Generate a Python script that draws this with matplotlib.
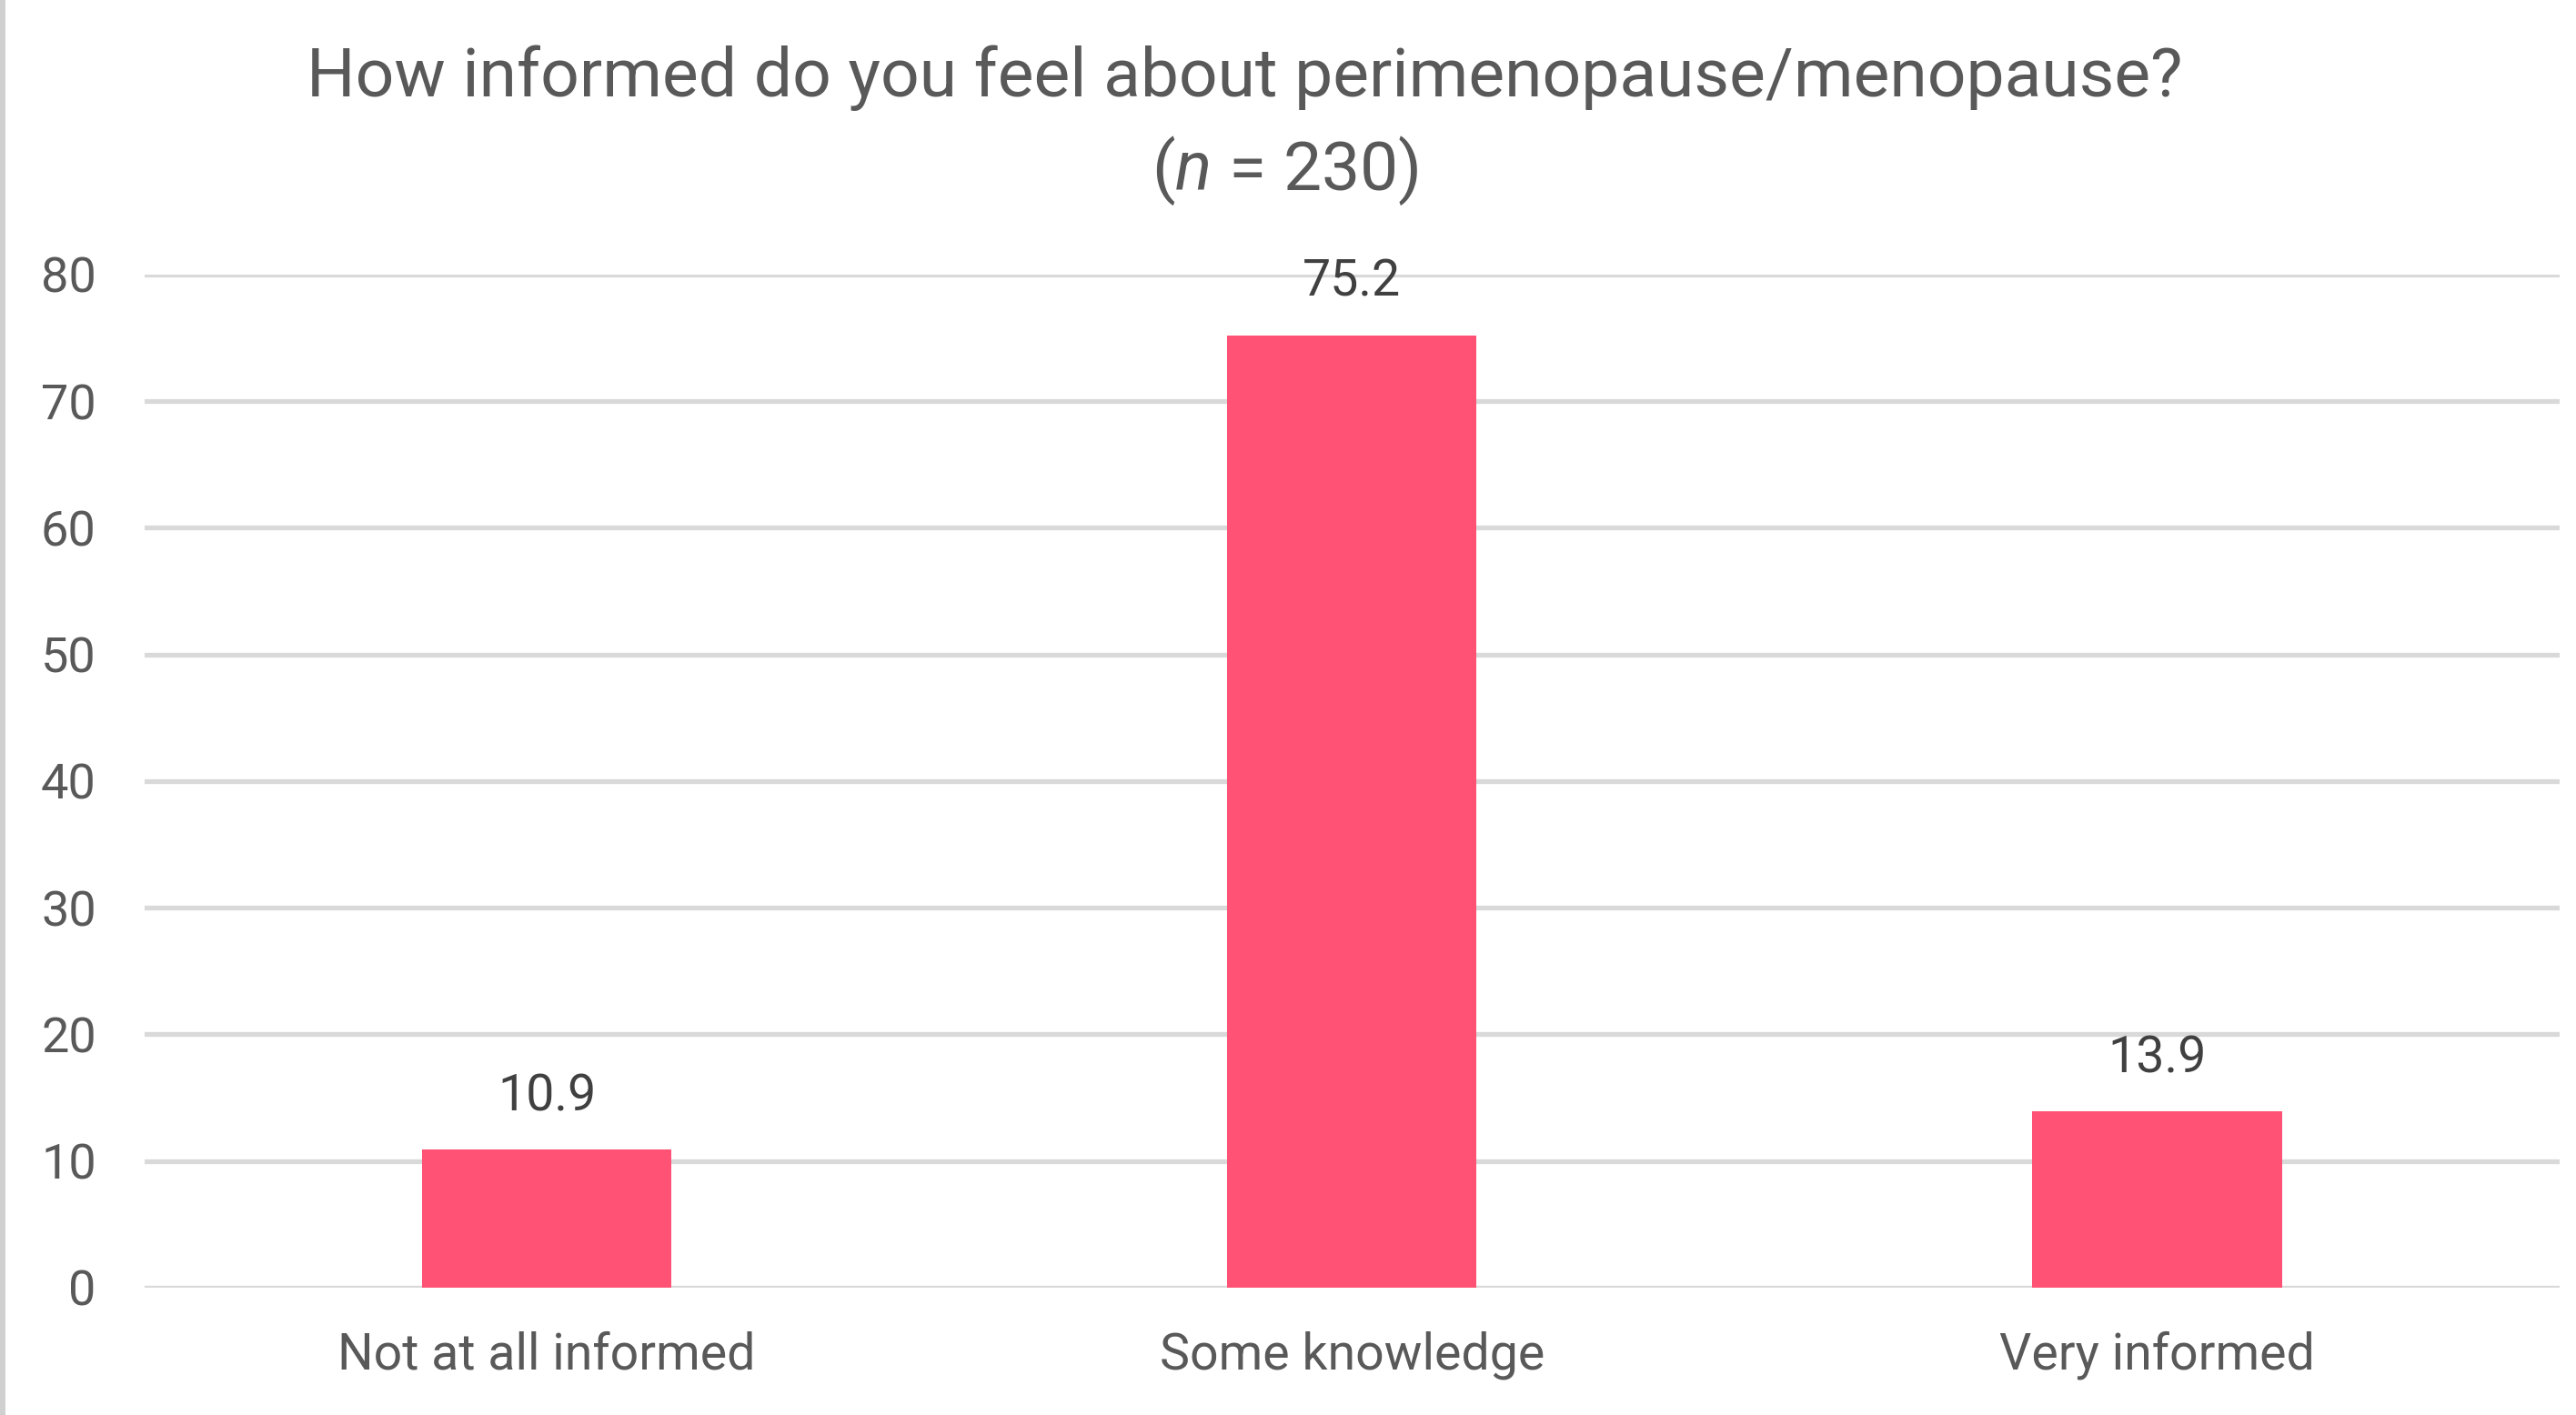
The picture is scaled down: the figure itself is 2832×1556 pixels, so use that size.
import numpy as np
import matplotlib.pyplot as plt

# Data
categories = ['Not at all informed', 'Some knowledge', 'Very informed']
values = [10.9, 75.2, 13.9]
yticks = [0, 10, 20, 30, 40, 50, 60, 70, 80]

bar_color = '#FF5274'
text_color = '#595959'
label_color = '#404040'
grid_color = '#D9D9D9'

plt.rcParams['font.family'] = ['Roboto', 'DejaVu Sans']
plt.rcParams['mathtext.fontset'] = 'custom'
plt.rcParams['mathtext.rm'] = 'Roboto'
plt.rcParams['mathtext.it'] = 'Roboto:italic'

fig = plt.figure(figsize=(14.16, 7.78), dpi=200)
ax = fig.add_axes([0.056, 0.090, 0.9376, 0.716])

x = np.arange(len(categories))
bars = ax.bar(x, values, width=0.31, color=bar_color, zorder=3)

for xi, v in zip(x, values):
    ax.annotate(f'{v:.1f}', (xi, v), xytext=(0, 11.5), textcoords='offset points',
                ha='center', va='bottom', fontsize=20, color=label_color)

ax.set_xlim(-0.5, 2.5)
ax.set_ylim(0, 80)
ax.set_yticks(yticks)
ax.set_xticks(x)
ax.set_xticklabels(categories)
ax.grid(axis='y', color=grid_color, linewidth=1.9, zorder=0)
ax.set_axisbelow(True)
for s in ax.spines.values():
    s.set_visible(False)
ax.tick_params(axis='both', length=0, labelsize=19.5, colors=text_color)
ax.tick_params(axis='y', pad=19)
ax.tick_params(axis='x', labelsize=20, pad=17)

fig.text(0.483, 0.945, 'How informed do you feel about perimenopause/menopause?',
         ha='center', va='center', fontsize=27, color=text_color)
fig.text(0.499, 0.879, r'($\it{n}$ = 230)', ha='center', va='center',
         fontsize=27, color=text_color)

# thin grey frame edge on the left
fig.add_artist(plt.Line2D([0.0007, 0.0007], [0, 1], color='#D0D0D0', linewidth=2.5,
                          transform=fig.transFigure))

fig.savefig('out.png', dpi=200, facecolor='white')
